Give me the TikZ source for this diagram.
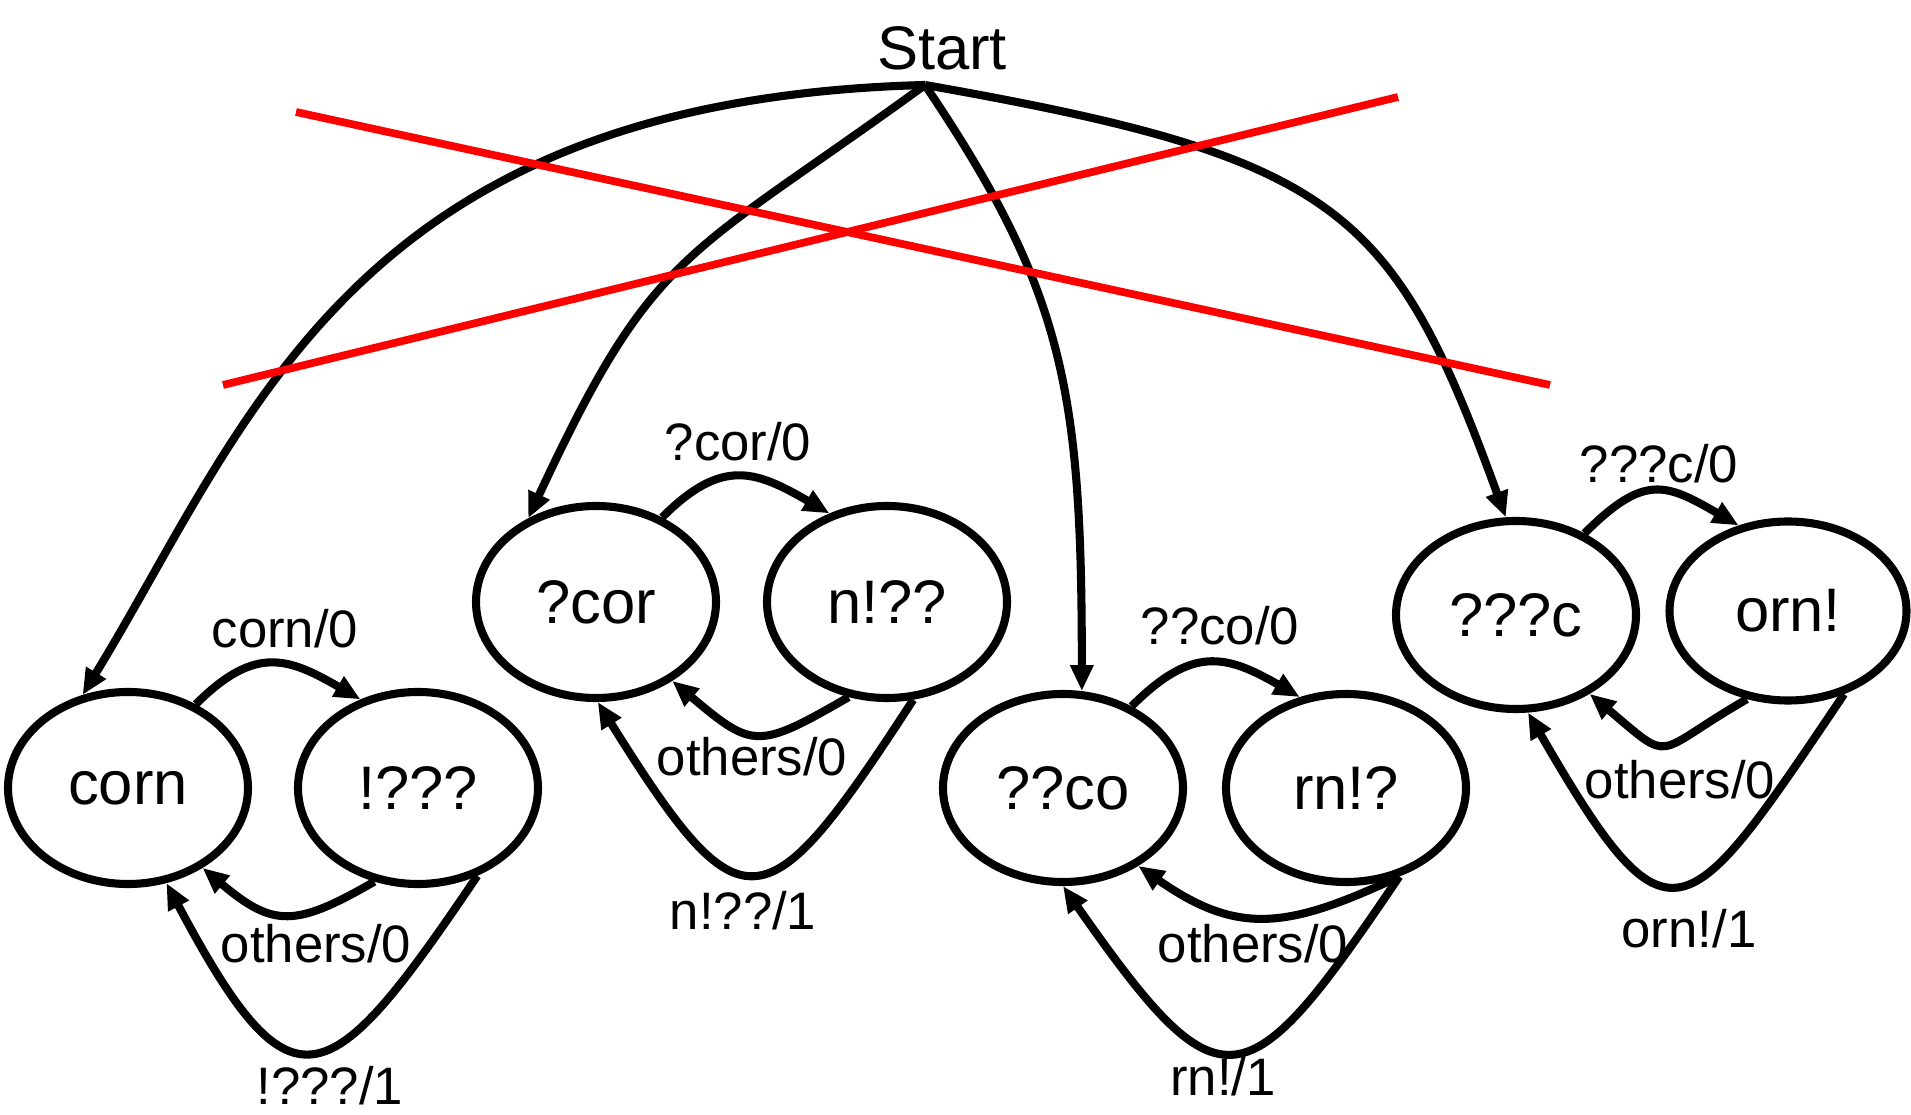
\documentclass[tikz,border=0pt]{standalone}
\usepackage{fontspec}
\setmainfont{Liberation Sans}
\usetikzlibrary{shapes.geometric,arrows.meta}
\begin{document}
\begin{tikzpicture}[state/.style={ellipse, draw, line width=2.3pt, minimum width=2.4cm, minimum height=1.92cm, inner sep=0pt, font=\fontsize{17.5}{21}\selectfont},
		lab/.style={inner sep=0pt, font=\fontsize{15}{18}\selectfont},
		trans/.style={line width=2.3pt, -{Triangle[length=0.26cm,width=0.22cm]}},
		cross/.style={red, line width=2.2pt}]
		\useasboundingbox (0,0) rectangle (19.11,11.14);
		\node[font=\fontsize{17.5}{21}\selectfont, inner sep=0pt] (start) at (9.42,10.66) {Start};
		\coordinate (s) at (9.25,10.29);
		\node[state] (corn) at (1.28,3.26) {corn};
		\node[state] (q3) at (4.18,3.26) {!???};
		\node[state] (qcor) at (5.96,5.12) {?cor};
		\node[state] (nqq) at (8.87,5.12) {n!??};
		\node[state, minimum height=1.88cm] (qqco) at (10.63,3.26) {??co};
		\node[state, minimum height=1.88cm] (rnq) at (13.46,3.26) {rn!?};
		\node[state, minimum height=1.88cm] (qqqc) at (15.16,4.99) {???c};
		\node[state, minimum width=2.37cm, minimum height=1.79cm] (orn) at (17.88,5.03) {orn!};
		\node[lab] (l1) at (2.85,4.85) {corn/0};
		\node[lab] (l2) at (3.16,1.70) {others/0};
		\node[lab] (l3) at (3.30,0.28) {!???/1};
		\node[lab] (l4) at (7.38,6.72) {?cor/0};
		\node[lab] (l5) at (7.52,3.57) {others/0};
		\node[lab] (l6) at (7.43,2.03) {n!??/1};
		\node[lab] (l7) at (12.20,4.88) {??co/0};
		\node[lab] (l8) at (12.53,1.70) {others/0};
		\node[lab] (l9) at (12.23,0.37) {rn!/1};
		\node[lab] (l10) at (16.59,6.50) {???c/0};
		\node[lab] (l11) at (16.80,3.34) {others/0};
		\node[lab] (l12) at (16.89,1.85) {orn!/1};
		\draw[trans] (s) .. controls +(181.5:5.74) and +(58.6:3.22) .. (corn.116);
		\draw[trans] (s) .. controls +(216:3) and +(65:3) .. (qcor.129);
		\draw[trans] (s) .. controls +(-56:2.5) and +(90:3) .. (qqco.79);
		\draw[trans] (s) .. controls +(-10:4.2) and +(110:3.3) .. (qqqc.96);
		\draw[trans] (corn.51) to[out=45, in=150, looseness=1.3] (q3.123);
		\draw[trans] (q3.245) to[out=210, in=-40, looseness=1.37] (corn.313);
		\draw[trans] (q3.304) to[out=236, in=-62, looseness=2.2] (corn.292);
		\draw[trans] (qcor.52) to[out=45, in=150, looseness=1.3] (nqq.123);
		\draw[trans] (nqq.248) to[out=210, in=-40, looseness=1.52] (qcor.314);
		\draw[trans] (nqq.285) to[out=237, in=-58, looseness=2.21] (qcor.271);
		\draw[trans] (qqco.50) to[out=45, in=150, looseness=1.3] (rnq.117);
		\draw[trans] (rnq.301) to[out=205, in=-35, looseness=1.2] (qqco.314);
		\draw[trans] (rnq.301) to[out=236, in=-55, looseness=2.1] (qqco.270);
		\draw[trans] (qqqc.50) to[out=45, in=150, looseness=1.4] (orn.120);
		\draw[trans] (orn.245) to[out=210, in=-40, looseness=1.8] (qqqc.313);
		\draw[trans] (orn.304) to[out=236, in=-60, looseness=2.3] (qqqc.277);
		\draw[cross] (2.96,10.02) -- (15.50,7.29);
		\draw[cross] (2.23,7.29) -- (13.98,10.17);
	\end{tikzpicture}
\end{document}
